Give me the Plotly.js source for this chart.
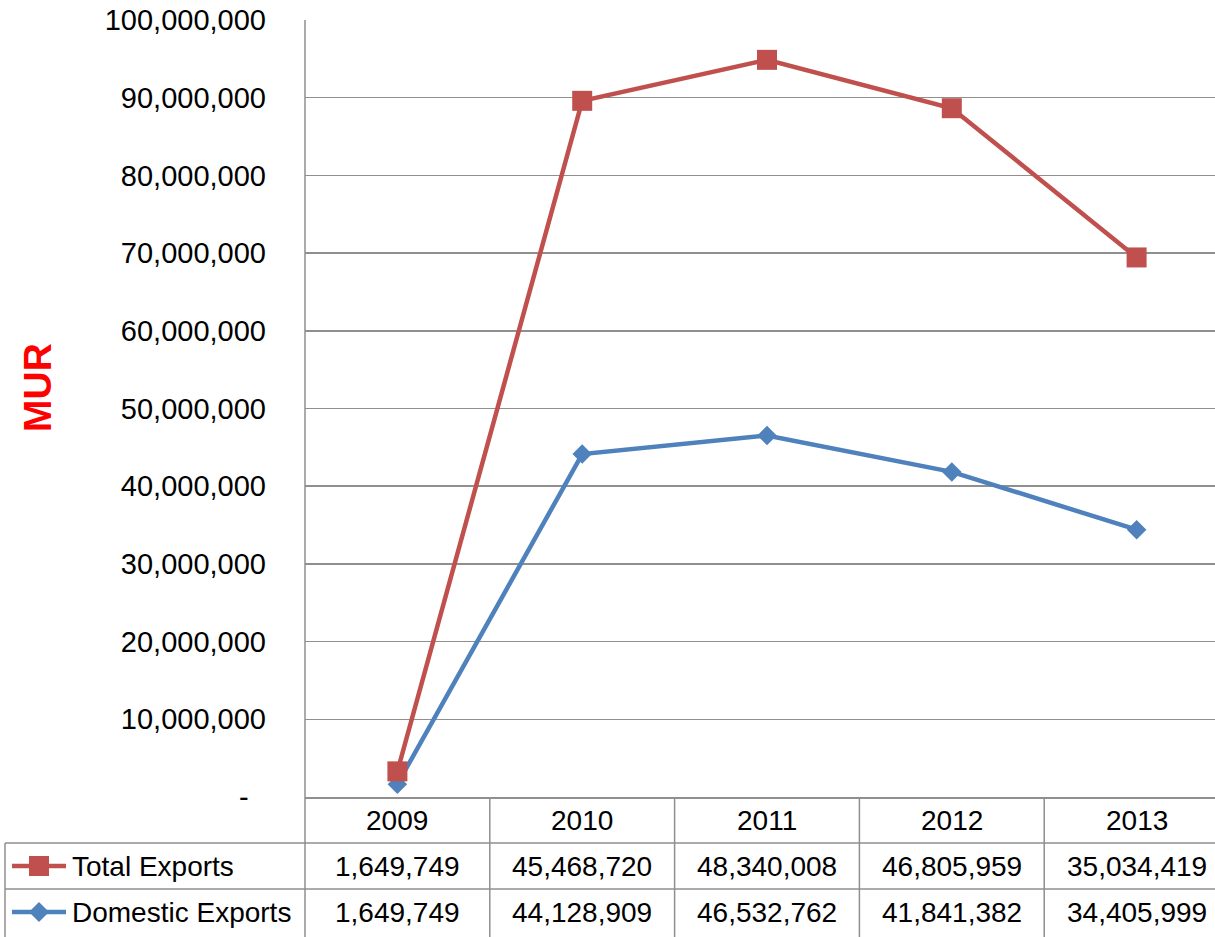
<!DOCTYPE html>
<html>
<head>
<meta charset="utf-8">
<script src="https://cdn.plot.ly/plotly-3.0.1.min.js"></script>
<style>
  html, body { margin: 0; padding: 0; background: #fff; }
  #chart { width: 1215px; height: 937px; }
</style>
</head>
<body>
<div id="chart"></div>
<script>
// Export values in MUR by year
const years = ['2009', '2010', '2011', '2012', '2013'];
const totalExports = [1649749, 45468720, 48340008, 46805959, 35034419];
const domesticExports = [1649749, 44128909, 46532762, 41841382, 34405999];
const seriesNames = ['Total Exports', 'Domestic Exports'];
const yTickVals = [0, 10e6, 20e6, 30e6, 40e6, 50e6, 60e6, 70e6, 80e6, 90e6, 100e6];

const RED = '#C0504D';
const BLUE = '#4F81BD';
const GRID = '#8f8f8f';
const FONT = 'Liberation Sans, Arial, sans-serif';

// page geometry (pixels)
const W = 1215, H = 937;
const L = 305, T = 20, B = 140;
const plotW = W - L, plotH = H - T - B;
const colW = 184.8;
const px = x => (x - L) / plotW;          // pixel x -> paper x
const py = y => (H - B - y) / plotH;       // pixel y -> paper y

const xIdx = years.map((_, i) => i);
const fmt = v => v.toLocaleString('en-US');

const traces = [
  {
    x: xIdx, y: domesticExports, name: seriesNames[1],
    type: 'scatter', mode: 'lines+markers', stackgroup: 'exp', fill: 'none',
    line: { color: BLUE, width: 4.5 },
    marker: { symbol: 'diamond', size: 15, color: BLUE },
    hoverinfo: 'skip'
  },
  {
    x: xIdx, y: totalExports, name: seriesNames[0],
    type: 'scatter', mode: 'lines+markers', stackgroup: 'exp', fill: 'none',
    line: { color: RED, width: 4.5 },
    marker: { symbol: 'square', size: 20, color: RED },
    hoverinfo: 'skip'
  }
];

const shapes = [];
const annotations = [];
const line = (x0, y0, x1, y1, xref) => shapes.push({
  type: 'line', xref: xref || 'paper', yref: 'paper',
  x0: x0, y0: y0, x1: x1, y1: y1,
  line: { color: GRID, width: 1.5 }, layer: 'above'
});

// data table grid
line(px(L), py(T), px(L), py(H));            // value axis, running down the table
line(px(5), py(843), 1, py(843));
line(px(5), py(889), 1, py(889));
line(px(5), py(843), px(5), py(H));
for (let i = 0; i < years.length - 1; i++) line(i + 0.5, py(797), i + 0.5, py(H), 'x');

// table text
const rowY = { head: py(820), total: py(866), dom: py(912) };
years.forEach((yr, i) => {
  annotations.push({ x: i, y: rowY.head, xref: 'x', yref: 'paper', text: yr, showarrow: false, yanchor: 'middle' });
  annotations.push({ x: i, y: rowY.total, xref: 'x', yref: 'paper', text: fmt(totalExports[i]), showarrow: false, yanchor: 'middle' });
  annotations.push({ x: i, y: rowY.dom, xref: 'x', yref: 'paper', text: fmt(domesticExports[i]), showarrow: false, yanchor: 'middle' });
});
annotations.push({ x: px(70), y: rowY.total, xref: 'paper', yref: 'paper', text: seriesNames[0], showarrow: false, xanchor: 'left', yanchor: 'middle' });
annotations.push({ x: px(70), y: rowY.dom, xref: 'paper', yref: 'paper', text: seriesNames[1], showarrow: false, xanchor: 'left', yanchor: 'middle' });

// legend keys inside the table
const keyLine = (y, color) => shapes.push({
  type: 'line', xref: 'paper', yref: 'paper', x0: px(12), x1: px(66), y0: py(y), y1: py(y),
  line: { color: color, width: 4.5 }, layer: 'above'
});
keyLine(866, RED);
keyLine(912, BLUE);
shapes.push({
  type: 'rect', xref: 'paper', yref: 'paper',
  x0: px(29), x1: px(49), y0: py(876), y1: py(856),
  fillcolor: RED, line: { width: 0 }, layer: 'above'
});
shapes.push({
  type: 'path', xref: 'paper', yref: 'paper', layer: 'above',
  path: `M ${px(39)} ${py(902)} L ${px(49)} ${py(912)} L ${px(39)} ${py(922)} L ${px(29)} ${py(912)} Z`,
  fillcolor: BLUE, line: { width: 0 }
});

// zero label of the value axis
annotations.push({ x: px(251), y: 0, xref: 'paper', yref: 'paper', text: '-', showarrow: false, xanchor: 'right', yanchor: 'middle', font: { size: 29 } });

// value axis title
annotations.push({
  x: px(37), y: py(388), xref: 'paper', yref: 'paper', text: '<b>MUR</b>', textangle: -90,
  showarrow: false, xanchor: 'center', yanchor: 'middle',
  font: { family: FONT, size: 39, color: '#FF0000' }
});

const layout = {
  width: W, height: H,
  margin: { l: L, r: 0, t: T, b: B },
  paper_bgcolor: '#fff', plot_bgcolor: '#fff',
  font: { family: FONT, size: 28, color: '#000' },
  showlegend: false,
  xaxis: {
    range: [-0.5, -0.5 + plotW / colW],
    showticklabels: false, showgrid: false, zeroline: false,
    showline: true, linecolor: GRID, linewidth: 1.5, fixedrange: true
  },
  yaxis: {
    range: [0, 100e6],
    tickvals: yTickVals,
    ticktext: yTickVals.map(v => v === 0 ? '' : fmt(v)),
    tickfont: { size: 29 },
    ticks: '', ticklabelstandoff: 38,
    showgrid: true, gridcolor: GRID, gridwidth: 1.5,
    zeroline: false, showline: false, fixedrange: true
  },
  shapes: shapes,
  annotations: annotations
};

Plotly.newPlot('chart', traces, layout, { displayModeBar: false, staticPlot: true });
</script>
</body>
</html>
